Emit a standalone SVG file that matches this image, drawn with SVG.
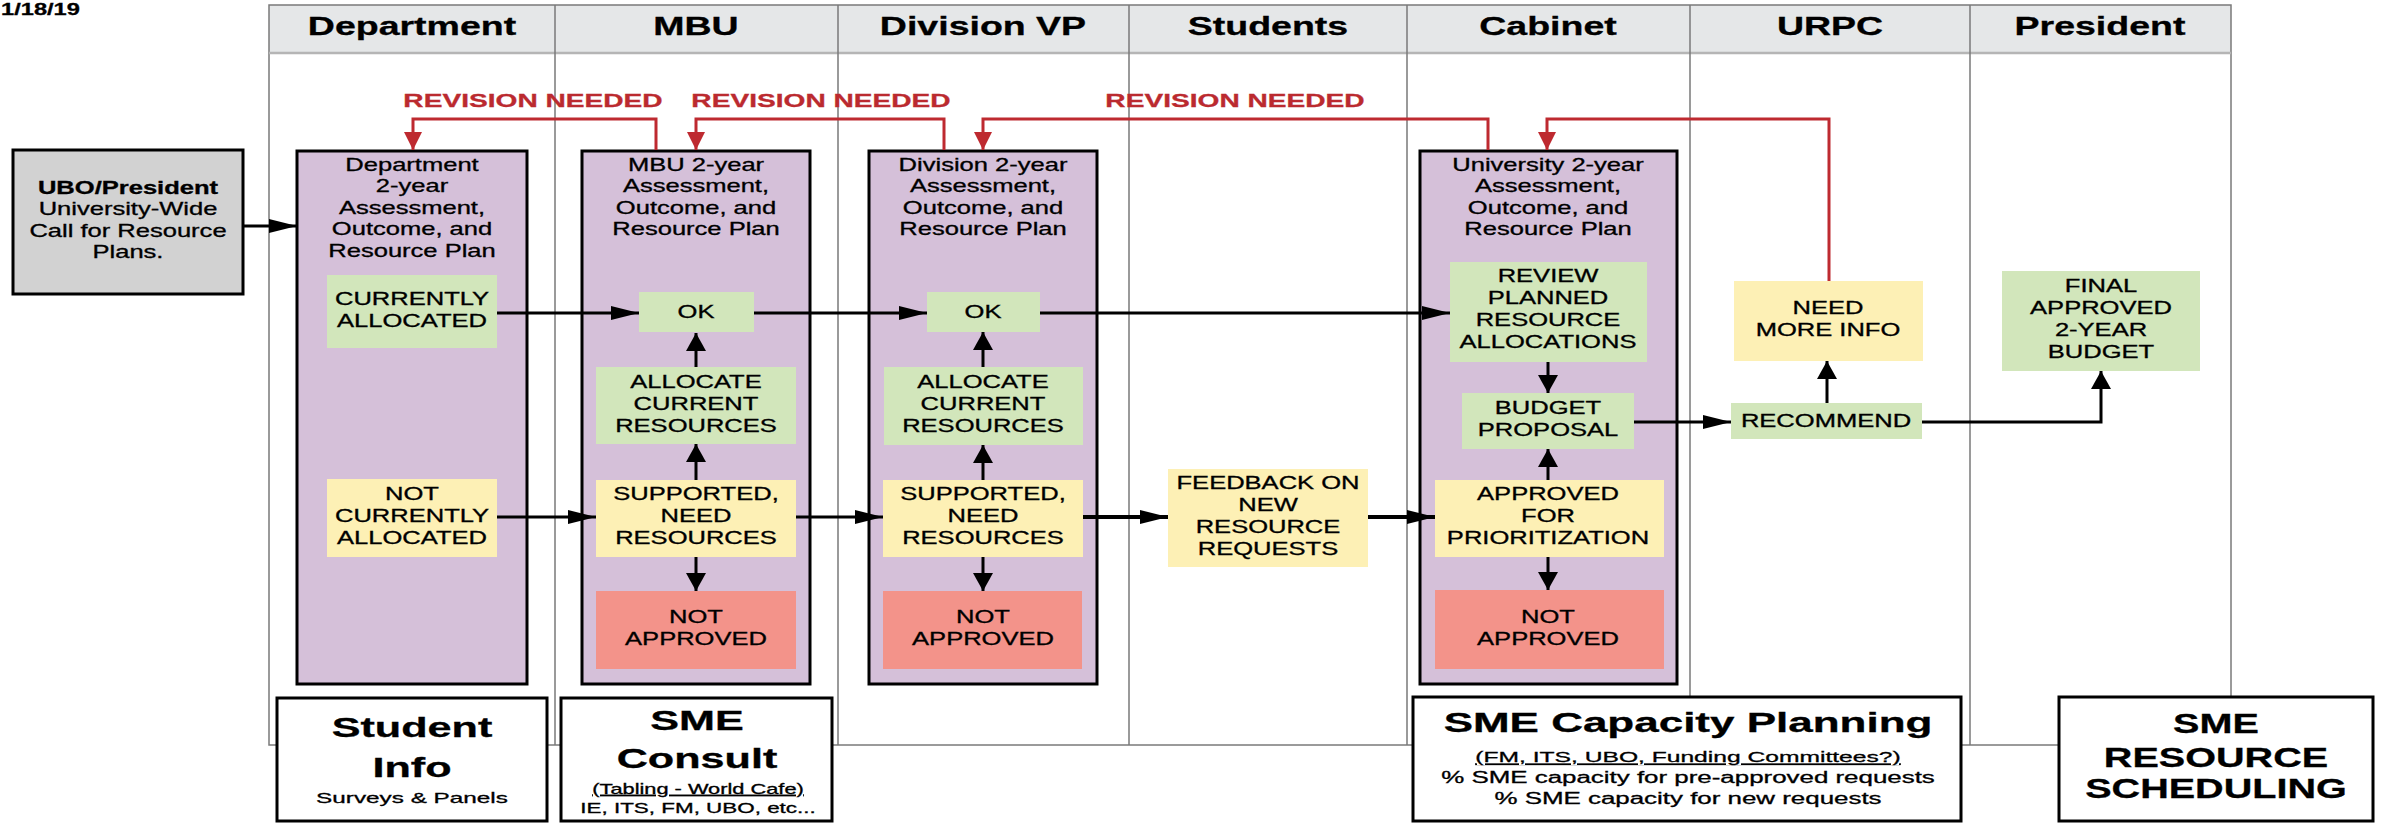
<svg xmlns="http://www.w3.org/2000/svg" width="2397" height="823" viewBox="0 0 2397 823">
<defs>
<style>
text{font-family:"Liberation Sans",Arial,Helvetica,sans-serif;text-anchor:middle;fill:#000;stroke:#000;stroke-width:0.3}
.hdr{font-size:25px;font-weight:bold}
.t{font-size:17.5px}
.b{font-weight:bold}
.rev{font-size:19px;font-weight:bold;fill:#bb2a2f;stroke:#bb2a2f}
.big{font-size:27.5px;font-weight:bold}
.sm{font-size:15px}
.u{text-decoration:underline}
.pur{fill:#d5c0d9;stroke:#000;stroke-width:3}
.grn{fill:#d2e6bb}
.yel{fill:#fdf0b5}
.red{fill:#f3938a}
.wbox{fill:#fff;stroke:#000;stroke-width:3}
.lane{stroke:#7a7a7a;stroke-width:1.5;fill:none}
.conn{stroke:#000;stroke-width:3;fill:none}
.thick{stroke-width:4}
.rc{stroke:#be2a30;stroke-width:3;fill:none;marker-end:url(#ar)}
.h{marker-end:url(#ah)}
.v{marker-end:url(#av)}
</style>
<marker id="ah" markerUnits="userSpaceOnUse" markerWidth="28" markerHeight="14" refX="28" refY="7" orient="auto"><path d="M0,0 L28,7 L0,14 z" fill="#000"/></marker>
<marker id="av" markerUnits="userSpaceOnUse" markerWidth="18" markerHeight="20" refX="18" refY="10" orient="auto"><path d="M0,0 L18,10 L0,20 z" fill="#000"/></marker>
<marker id="ar" markerUnits="userSpaceOnUse" markerWidth="18" markerHeight="18" refX="18" refY="9" orient="auto"><path d="M0,0 L18,9 L0,18 z" fill="#be2a30"/></marker>
</defs>
<rect width="2397" height="823" fill="#fff"/>
<text class="b" font-size="16" style="text-anchor:start" transform="translate(1 15) scale(1.48 1)">1/18/19</text>

<g id="lanes">
<rect x="269" y="5" width="1962" height="48" fill="#e5e7e8"/>
<rect x="269" y="5" width="1962" height="740" class="lane"/>
<line x1="269" y1="53" x2="2231" y2="53" stroke="#b5b5b5" stroke-width="2.5"/>
<path class="lane" d="M555,5V745M838,5V745M1129,5V745M1407,5V745M1690,5V745M1970,5V745"/>
<text class="hdr" transform="translate(412 35) scale(1.5 1)">Department</text>
<text class="hdr" transform="translate(696 35) scale(1.5 1)">MBU</text>
<text class="hdr" transform="translate(983 35) scale(1.5 1)">Division VP</text>
<text class="hdr" transform="translate(1268 35) scale(1.5 1)">Students</text>
<text class="hdr" transform="translate(1548 35) scale(1.5 1)">Cabinet</text>
<text class="hdr" transform="translate(1830 35) scale(1.5 1)">URPC</text>
<text class="hdr" transform="translate(2100 35) scale(1.5 1)">President</text>
</g>

<g id="ubo">
<rect x="13" y="150" width="230" height="144" fill="#d2d2d2" stroke="#000" stroke-width="3"/>
<g transform="translate(128 0) scale(1.46 1)">
<text class="t b" y="194">UBO/President</text>
<text class="t" y="215">University-Wide</text>
<text class="t" y="237">Call for Resource</text>
<text class="t" y="258">Plans.</text>
</g>
</g>

<g id="dept-plan">
<rect class="pur" x="297" y="151" width="230" height="533"/>
<g transform="translate(412 0) scale(1.46 1)">
<text class="t" y="171">Department</text>
<text class="t" y="192.5">2-year</text>
<text class="t" y="214">Assessment,</text>
<text class="t" y="235.5">Outcome, and</text>
<text class="t" y="257">Resource Plan</text>
</g>
</g>
<g id="mbu-plan">
<rect class="pur" x="582" y="151" width="228" height="533"/>
<g transform="translate(696 0) scale(1.46 1)">
<text class="t" y="171">MBU 2-year</text>
<text class="t" y="192.5">Assessment,</text>
<text class="t" y="214">Outcome, and</text>
<text class="t" y="235.5">Resource Plan</text>
</g>
</g>
<g id="div-plan">
<rect class="pur" x="869" y="151" width="228" height="533"/>
<g transform="translate(983 0) scale(1.46 1)">
<text class="t" y="171">Division 2-year</text>
<text class="t" y="192.5">Assessment,</text>
<text class="t" y="214">Outcome, and</text>
<text class="t" y="235.5">Resource Plan</text>
</g>
</g>
<g id="univ-plan">
<rect class="pur" x="1420" y="151" width="257" height="533"/>
<g transform="translate(1548 0) scale(1.46 1)">
<text class="t" y="171">University 2-year</text>
<text class="t" y="192.5">Assessment,</text>
<text class="t" y="214">Outcome, and</text>
<text class="t" y="235.5">Resource Plan</text>
</g>
</g>

<g id="dept-current">
<rect class="grn" x="327" y="275" width="170" height="73"/>
<g transform="translate(412 0) scale(1.46 1)">
<text class="t" y="305">CURRENTLY</text>
<text class="t" y="327">ALLOCATED</text>
</g>
</g>
<g id="dept-notcurrent">
<rect class="yel" x="327" y="479" width="170" height="78"/>
<g transform="translate(412 0) scale(1.46 1)">
<text class="t" y="500">NOT</text>
<text class="t" y="522">CURRENTLY</text>
<text class="t" y="544">ALLOCATED</text>
</g>
</g>

<g id="mbu-ok">
<rect class="grn" x="639" y="292" width="115" height="40"/>
<text class="t" transform="translate(696 318) scale(1.46 1)">OK</text>
</g>
<g id="mbu-allocate">
<rect class="grn" x="596" y="367" width="200" height="77"/>
<g transform="translate(696 0) scale(1.46 1)">
<text class="t" y="388">ALLOCATE</text>
<text class="t" y="410">CURRENT</text>
<text class="t" y="432">RESOURCES</text>
</g>
</g>
<g id="mbu-supported">
<rect class="yel" x="596" y="480" width="200" height="77"/>
<g transform="translate(696 0) scale(1.46 1)">
<text class="t" y="500">SUPPORTED,</text>
<text class="t" y="522">NEED</text>
<text class="t" y="544">RESOURCES</text>
</g>
</g>
<g id="mbu-notapproved">
<rect class="red" x="596" y="591" width="200" height="78"/>
<g transform="translate(696 0) scale(1.46 1)">
<text class="t" y="623">NOT</text>
<text class="t" y="645">APPROVED</text>
</g>
</g>

<g id="div-ok">
<rect class="grn" x="927" y="292" width="113" height="40"/>
<text class="t" transform="translate(983 318) scale(1.46 1)">OK</text>
</g>
<g id="div-allocate">
<rect class="grn" x="884" y="367" width="199" height="78"/>
<g transform="translate(983 0) scale(1.46 1)">
<text class="t" y="388">ALLOCATE</text>
<text class="t" y="410">CURRENT</text>
<text class="t" y="432">RESOURCES</text>
</g>
</g>
<g id="div-supported">
<rect class="yel" x="883" y="480" width="200" height="77"/>
<g transform="translate(983 0) scale(1.46 1)">
<text class="t" y="500">SUPPORTED,</text>
<text class="t" y="522">NEED</text>
<text class="t" y="544">RESOURCES</text>
</g>
</g>
<g id="div-notapproved">
<rect class="red" x="883" y="591" width="199" height="78"/>
<g transform="translate(983 0) scale(1.46 1)">
<text class="t" y="623">NOT</text>
<text class="t" y="645">APPROVED</text>
</g>
</g>

<g id="feedback">
<rect class="yel" x="1168" y="469" width="200" height="98"/>
<g transform="translate(1268 0) scale(1.46 1)">
<text class="t" y="489">FEEDBACK ON</text>
<text class="t" y="511">NEW</text>
<text class="t" y="533">RESOURCE</text>
<text class="t" y="555">REQUESTS</text>
</g>
</g>

<g id="cab-review">
<rect class="grn" x="1450" y="262" width="197" height="100"/>
<g transform="translate(1548 0) scale(1.46 1)">
<text class="t" y="282">REVIEW</text>
<text class="t" y="304">PLANNED</text>
<text class="t" y="326">RESOURCE</text>
<text class="t" y="348">ALLOCATIONS</text>
</g>
</g>
<g id="cab-budget">
<rect class="grn" x="1462" y="393" width="172" height="56"/>
<g transform="translate(1548 0) scale(1.46 1)">
<text class="t" y="414">BUDGET</text>
<text class="t" y="436">PROPOSAL</text>
</g>
</g>
<g id="cab-approved">
<rect class="yel" x="1435" y="480" width="229" height="77"/>
<g transform="translate(1548 0) scale(1.46 1)">
<text class="t" y="500">APPROVED</text>
<text class="t" y="522">FOR</text>
<text class="t" y="544">PRIORITIZATION</text>
</g>
</g>
<g id="cab-notapproved">
<rect class="red" x="1435" y="590" width="229" height="79"/>
<g transform="translate(1548 0) scale(1.46 1)">
<text class="t" y="623">NOT</text>
<text class="t" y="645">APPROVED</text>
</g>
</g>

<g id="urpc-needinfo">
<rect class="yel" x="1734" y="281" width="189" height="80"/>
<g transform="translate(1828 0) scale(1.46 1)">
<text class="t" y="314">NEED</text>
<text class="t" y="336">MORE INFO</text>
</g>
</g>
<g id="urpc-recommend">
<rect class="grn" x="1731" y="403" width="191" height="36"/>
<text class="t" transform="translate(1826 427) scale(1.46 1)">RECOMMEND</text>
</g>
<g id="final-budget">
<rect class="grn" x="2002" y="271" width="198" height="100"/>
<g transform="translate(2101 0) scale(1.46 1)">
<text class="t" y="292">FINAL</text>
<text class="t" y="314">APPROVED</text>
<text class="t" y="336">2-YEAR</text>
<text class="t" y="358">BUDGET</text>
</g>
</g>

<g id="student-info">
<rect class="wbox" x="277" y="698" width="270" height="123"/>
<g transform="translate(412 0) scale(1.57 1)">
<text class="big" y="737">Student</text>
<text class="big" y="777">Info</text>
</g>
<text class="sm" font-size="13" transform="translate(412 803) scale(1.62 1)">Surveys &amp; Panels</text>
</g>
<g id="sme-consult">
<rect class="wbox" x="561" y="698" width="271" height="123"/>
<g transform="translate(697 0) scale(1.57 1)">
<text class="big" y="730">SME</text>
<text class="big" y="768">Consult</text>
</g>
<g transform="translate(698 0) scale(1.58 1)">
<text class="u" font-size="13.8" y="794">(Tabling - World Cafe)</text>
<text font-size="14.2" y="813">IE, ITS, FM, UBO, etc...</text>
</g>
</g>
<g id="sme-capacity">
<rect class="wbox" x="1413" y="697" width="548" height="124"/>
<text class="big" transform="translate(1688 732) scale(1.6 1)">SME Capacity Planning</text>
<g transform="translate(1688 0) scale(1.62 1)">
<text class="u" font-size="15.2" y="762">(FM, ITS, UBO, Funding Committees?)</text>
<text font-size="16" y="783">% SME capacity for pre-approved requests</text>
<text font-size="16" y="804">% SME capacity for new requests</text>
</g>
</g>
<g id="sme-scheduling">
<rect class="wbox" x="2059" y="697" width="314" height="124"/>
<g transform="translate(2216 0) scale(1.44 1)">
<text class="big" font-size="26" y="733">SME</text>
<text class="big" font-size="26" y="767">RESOURCE</text>
<text class="big" font-size="26" y="798">SCHEDULING</text>
</g>
</g>

<g id="connectors">
<path class="conn h" d="M243,226H297"/>
<path class="conn h" d="M497,313H639"/>
<path class="conn h" d="M754,313H927"/>
<path class="conn h" d="M1040,313H1450"/>
<path class="conn v" d="M696,367V333"/>
<path class="conn v" d="M983,367V332"/>
<path class="conn v" d="M696,480V444"/>
<path class="conn v" d="M983,480V445"/>
<path class="conn v" d="M696,557V591"/>
<path class="conn v" d="M983,557V591"/>
<path class="conn h" d="M497,517H596"/>
<path class="conn h" d="M796,517H883"/>
<path class="conn thick h" d="M1083,517H1168"/>
<path class="conn thick h" d="M1368,517H1435"/>
<path class="conn v" d="M1548,362V393"/>
<path class="conn v" d="M1548,480V449"/>
<path class="conn v" d="M1548,557V590"/>
<path class="conn h" d="M1634,422H1731"/>
<path class="conn v" d="M1827,403V361"/>
<path class="conn v" d="M1922,422H2101V371"/>
<path class="rc" d="M656,150V119H413V150"/>
<path class="rc" d="M944,150V119H696V150"/>
<path class="rc" d="M1488,150V119H983V150"/>
<path class="rc" d="M1829,281V119H1547V150"/>
<text class="rev" transform="translate(533 107) scale(1.48 1)">REVISION NEEDED</text>
<text class="rev" transform="translate(821 107) scale(1.48 1)">REVISION NEEDED</text>
<text class="rev" transform="translate(1235 107) scale(1.48 1)">REVISION NEEDED</text>
</g>
</svg>
